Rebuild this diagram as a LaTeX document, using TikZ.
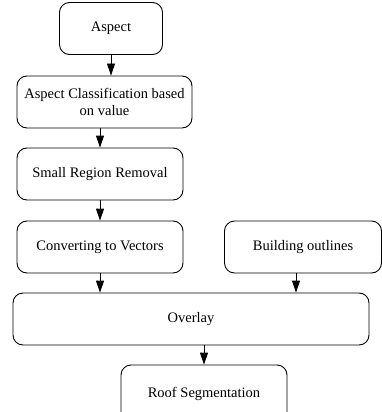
\documentclass[tikz,border=0pt]{standalone}
\usepackage{fontspec}
\setmainfont{Liberation Serif}
\usepackage{tikz}
\usetikzlibrary{arrows.meta, positioning, calc}

\begin{document}
\begin{tikzpicture}[
    x=1pt, y=1pt,
    stepbox/.style={rectangle, draw, line width=0.9pt, rounded corners=10pt, minimum height=52pt, inner sep=2pt, align=center, font=\fontsize{14.5}{17.4}\selectfont},
    arrow/.style={-{Triangle[length=12pt,width=8pt]}, line width=0.9pt}
]
\useasboundingbox (0,0) rectangle (382,-412);

% Boxes
\node[stepbox, minimum width=103pt] (aspect) at (111,-28.5) {Aspect};
\node[stepbox, minimum width=175pt] (classify) at (104.5,-102) {Aspect Classification based\\on value};
\node[stepbox, minimum width=166pt] (removal) at (100,-174) {Small Region Removal};
\node[stepbox, minimum width=166pt] (vectors) at (100,-247) {Converting to Vectors};
\node[stepbox, minimum width=157pt] (outlines) at (303,-247) {Building outlines};
\node[stepbox, minimum width=356pt] (overlay) at (191,-319) {Overlay};
\node[stepbox, minimum width=166pt, minimum height=58pt] (roof) at (204,-394) {Roof Segmentation};

% Arrows
\draw[arrow] (aspect.south) -- (aspect.south |- classify.north);
\draw[arrow] (removal.north |- classify.south) -- (removal.north);
\draw[arrow] (removal.south) -- (vectors.north);
\draw[arrow] (vectors.south) -- (vectors.south |- overlay.north);
\draw[arrow] ([xshift=-7pt]outlines.south) -- ([xshift=-7pt]outlines.south |- overlay.north);
\draw[arrow] (roof.north |- overlay.south) -- (roof.north);

\end{tikzpicture}
\end{document}
